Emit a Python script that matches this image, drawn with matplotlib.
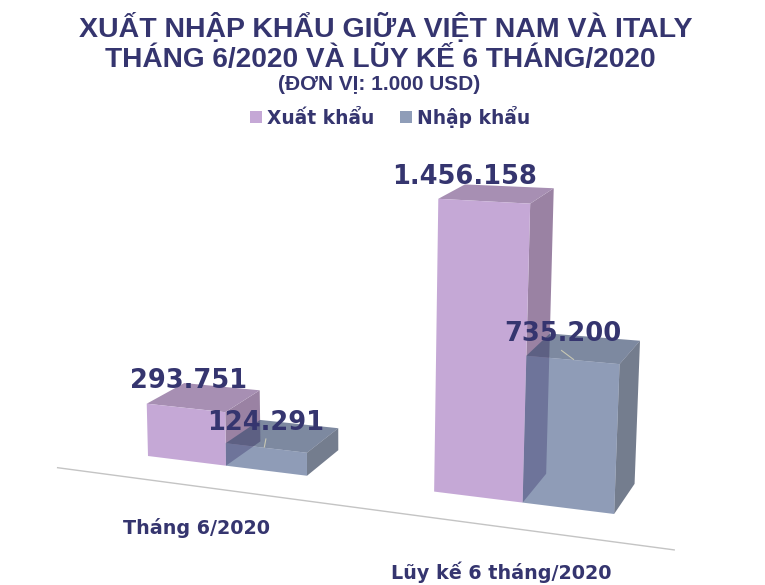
import matplotlib
matplotlib.use('Agg')
import matplotlib.pyplot as plt
from matplotlib.patches import Polygon, Rectangle

# data (1.000 USD)
categories = ['Tháng 6/2020', 'Lũy kế 6 tháng/2020']
series = ['Xuất khẩu', 'Nhập khẩu']
xuat_khau = [293751, 1456158]
nhap_khau = [124291, 735200]
value_labels = [['293.751', '1.456.158'], ['124.291', '735.200']]

NAVY = '#35356f'
GAP = 1.5  # gap between groups, in bar widths


def project(u, d, v):
    """Fake 3D camera: u along the category axis, d depth 0-1, v value, returns pixels"""
    m = v / 1e6
    h = m * (176 + 4 * u) * (1 + 0.04 * m)
    x = 148 + 76.5 * u + 1.5 * u ** 2 + h * 0.011 * (u - 2.2)
    y = 456 + 9.5 * u + 0.19 * u ** 2 - h
    x += d * (37.5 - 3.1 * u)
    y += d * (-23 - 1.3 * u + 0.045 * h)
    return x, y


def draw_box(ax, u, v, front, top, side, alpha=1.0, z=1):
    """One 3D bar, width 1 from u to u+1"""
    p = project
    ax.add_patch(Polygon([p(u + 1, 0, 0), p(u + 1, 1, 0), p(u + 1, 1, v), p(u + 1, 0, v)],
                         fc=side, ec='none', alpha=alpha, zorder=z))
    ax.add_patch(Polygon([p(u, 0, v), p(u + 1, 0, v), p(u + 1, 1, v), p(u, 1, v)],
                         fc=top, ec='none', alpha=alpha, zorder=z))
    ax.add_patch(Polygon([p(u, 0, 0), p(u + 1, 0, 0), p(u + 1, 0, v), p(u, 0, v)],
                         fc=front, ec='none', alpha=alpha, zorder=z))


fig = plt.figure(figsize=(7.65, 5.85), dpi=100)
ax = fig.add_axes([0, 0, 1, 1])
ax.set_xlim(0, 765)
ax.set_ylim(585, 0)
ax.axis('off')

# axis line on the floor
x0, y0 = project(-0.75, -0.85, 0)
x1, y1 = project(6.3, -0.85, 0)
ax.plot([x0, x1], [y0, y1], color='#c4c4c4', lw=1, zorder=0)

for i in range(len(categories)):
    u = i * (2 + GAP)
    draw_box(ax, u, xuat_khau[i], '#c5a8d6', '#a78fb3', '#9a82a3', z=1)
    # blue bar is see-through, the purple side shows behind it
    draw_box(ax, u + 1, nhap_khau[i], '#5a6e96', '#405174', '#333f58', alpha=0.68, z=2)

    px, py = project(u + 1, 0, 0)
    ax.text(px + (-29 if i == 0 else -21), py + (68 if i == 0 else 76), categories[i],
            ha='center', va='baseline', fontsize=13.8, fontweight='bold', color=NAVY,
            family='DejaVu Sans', zorder=5)

# value labels
offsets = [[(-15, -16), (-32, -17)], [(-17, -13), (-21, -15)]]
for s, vals in enumerate([xuat_khau, nhap_khau]):
    for i, v in enumerate(vals):
        u = i * (2 + GAP) + s + 0.5
        px, py = project(u, 0.5, v)
        dx, dy = offsets[s][i]
        ax.text(px + dx, py + dy, value_labels[s][i], ha='center', va='center',
                fontsize=18.5, fontweight='bold', color=NAVY, family='DejaVu Sans', zorder=6)

# small leader lines of the blue labels
for i, v in enumerate(nhap_khau):
    px, py = project(i * (2 + GAP) + 1.5, 0.5, v)
    if i == 0:
        ends = [(px - 18, py + 11), (px - 16.5, py + 3)]
    else:
        ends = [(px - 10, py + 11), (px - 22, py + 2)]
    ax.plot([ends[0][0], ends[1][0]], [ends[0][1], ends[1][1]], color='#c8c8b4', lw=0.8, zorder=4)

# title
ax.text(386, 37, 'XUẤT NHẬP KHẨU GIỮA VIỆT NAM VÀ ITALY', ha='center', va='baseline',
        fontsize=20.5, fontweight='bold', color=NAVY, family='Liberation Sans')
ax.text(380, 67, 'THÁNG 6/2020 VÀ LŨY KẾ 6 THÁNG/2020', ha='center', va='baseline',
        fontsize=20.2, fontweight='bold', color=NAVY, family='Liberation Sans')
ax.text(379, 90, '(ĐƠN VỊ: 1.000 USD)', ha='center', va='baseline',
        fontsize=15, fontweight='bold', color=NAVY, family='Liberation Sans')

# legend
for name, color, sx in zip(series, ['#c5a8d6', '#8f9db8'], [250, 400]):
    ax.add_patch(Rectangle((sx, 111), 12, 12, fc=color, ec='none'))
    ax.text(sx + 17, 124, name, ha='left', va='baseline', fontsize=13.4, color=NAVY,
            fontweight='bold', family='DejaVu Sans')

fig.savefig('out.png', dpi=100)
